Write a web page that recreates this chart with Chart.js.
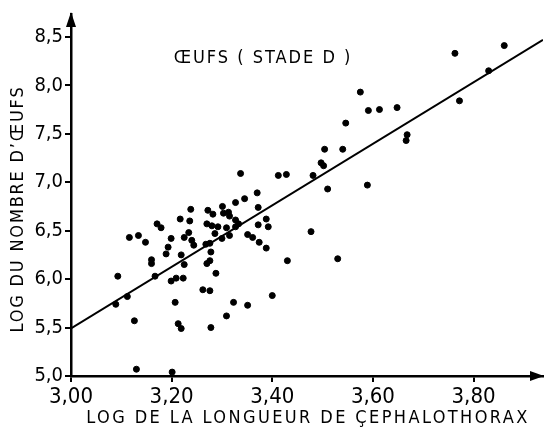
<!DOCTYPE html>
<html><head><meta charset="utf-8">
<script src="https://cdn.jsdelivr.net/npm/chart.js@4/dist/chart.umd.min.js"></script>
<style>html,body{margin:0;padding:0;background:#fff}#wrap{width:547px;height:434px}</style>
</head><body><div id="wrap"><canvas id="c" width="547" height="434"></canvas></div>
<script>
const xTicks = [3.00, 3.20, 3.40, 3.60, 3.80];
const yTicks = [5.0, 5.5, 6.0, 6.5, 7.0, 7.5, 8.0, 8.5];
const logLength = [3.089,3.093,3.112,3.126,3.116,3.134,3.148,3.130,3.201,3.160,3.160,3.167,3.171,3.179,3.193,3.189,3.199,3.209,3.223,3.207,3.213,3.219,3.219,3.225,3.217,3.236,3.199,3.225,3.234,3.240,3.244,3.238,
3.262,3.276,3.278,3.309,3.323,3.351,3.288,3.276,3.270,3.278,3.268,3.276,3.286,3.300,3.315,3.351,3.361,3.374,3.388,3.270,3.280,3.292,3.309,3.327,3.333,3.372,3.392,3.272,3.282,3.303,3.313,3.315,3.327,3.301,3.327,3.345,3.370,3.372,3.388,3.337,3.412,3.428,3.400,3.430,3.477,3.530,3.481,3.510,3.497,3.502,3.504,3.540,3.589,3.546,3.575,3.591,3.613,3.648,3.666,3.668,3.763,3.772,3.830,3.861];
const logEggs = [5.74,6.03,5.82,5.57,6.43,6.45,6.38,5.07,5.04,6.20,6.16,6.03,6.57,6.53,6.33,6.26,5.98,6.01,6.01,5.76,5.54,5.49,6.25,6.15,6.62,6.60,6.42,6.43,6.48,6.40,6.35,6.72,
5.89,5.88,5.50,5.62,5.76,5.73,6.06,6.19,6.16,6.28,6.36,6.37,6.47,6.42,6.45,6.46,6.43,6.38,6.32,6.57,6.55,6.54,6.53,6.54,6.57,6.56,6.54,6.71,6.67,6.68,6.69,6.65,6.61,6.75,6.79,6.83,6.89,6.74,6.62,7.09,7.07,7.08,5.83,6.19,6.49,6.21,7.07,6.93,7.20,7.17,7.34,7.34,6.97,7.61,7.93,7.74,7.75,7.77,7.43,7.49,8.33,7.84,8.15,8.41];
const fitX = [3.00, 3.938];
const fitY = [5.49, 8.47];

const NARROW = '"Liberation Sans Narrow","DejaVu Sans Condensed","Liberation Sans",sans-serif';
const points = logLength.map((x, i) => ({x, y: logEggs[i]}));
const fit = fitX.map((x, i) => ({x, y: fitY[i]}));

const annot = {
  id: 'annot',
  afterDraw(chart) {
    const ctx = chart.ctx, a = chart.chartArea;
    ctx.save();
    ctx.fillStyle = '#000';
    // arrows
    ctx.beginPath();
    ctx.moveTo(a.left, a.top - 2); ctx.lineTo(a.left - 5, a.top + 13); ctx.lineTo(a.left + 5, a.top + 13); ctx.closePath(); ctx.fill();
    ctx.beginPath();
    ctx.moveTo(a.right + 1, a.bottom); ctx.lineTo(a.right - 13, a.bottom - 5); ctx.lineTo(a.right - 13, a.bottom + 5); ctx.closePath(); ctx.fill();
    // title inside plot
    ctx.font = '18px ' + NARROW;
    ctx.letterSpacing = '2px';
    ctx.textAlign = 'center'; ctx.textBaseline = 'middle';
    ctx.fillText('ŒUFS ( STADE D )', 263, 58);
    // x axis title
    ctx.font = '18px ' + NARROW;
    ctx.letterSpacing = '2.4px';
    ctx.fillText('LOG DE LA LONGUEUR DE ÇEPHALOTHORAX', 308, 418);
    // y axis title
    ctx.letterSpacing = '1.8px';
    ctx.translate(18, 209);
    ctx.rotate(-Math.PI / 2);
    ctx.fillText('LOG DU NOMBRE D\u2019ŒUFS', 0, 0);
    ctx.restore();
  }
};

new Chart(document.getElementById('c'), {
  type: 'scatter',
  data: {
    datasets: [
      {data: points, backgroundColor: '#000', borderColor: '#000', pointRadius: 3, pointHoverRadius: 3, showLine: false},
      {type: 'line', data: fit, borderColor: '#000', borderWidth: 2, pointRadius: 0, fill: false, tension: 0}
    ]
  },
  options: {
    responsive: false, animation: false, devicePixelRatio: 1,
    layout: {padding: {top: 12, right: 0, left: 0, bottom: 0}},
    plugins: {legend: {display: false}, tooltip: {enabled: false}},
    scales: {
      x: {
        type: 'linear', min: 3.0, max: 3.938,
        afterBuildTicks: s => { s.ticks = xTicks.map(v => ({value: v})); },
        afterFit: s => { s.height = 58; },
        grid: {display: true, drawOnChartArea: false, drawTicks: true, tickLength: 6, color: '#000', lineWidth: 2},
        border: {display: true, color: '#000', width: 2.5},
        ticks: {color: '#000', padding: 2, maxRotation: 0, autoSkip: false,
          font: {family: NARROW, size: 22},
          callback: v => v.toFixed(2).replace('.', ',')}
      },
      y: {
        type: 'linear', min: 5.0, max: 8.736,
        afterBuildTicks: s => { s.ticks = yTicks.map(v => ({value: v})); },
        afterFit: s => { s.width = 71; },
        grid: {display: true, drawOnChartArea: false, drawTicks: true, tickLength: 6, color: '#000', lineWidth: 2},
        border: {display: true, color: '#000', width: 2.5},
        ticks: {color: '#000', padding: 2, autoSkip: false,
          font: {family: NARROW, size: 20},
          callback: v => v.toFixed(1).replace('.', ',')}
      }
    }
  },
  plugins: [annot]
});
</script></body></html>
